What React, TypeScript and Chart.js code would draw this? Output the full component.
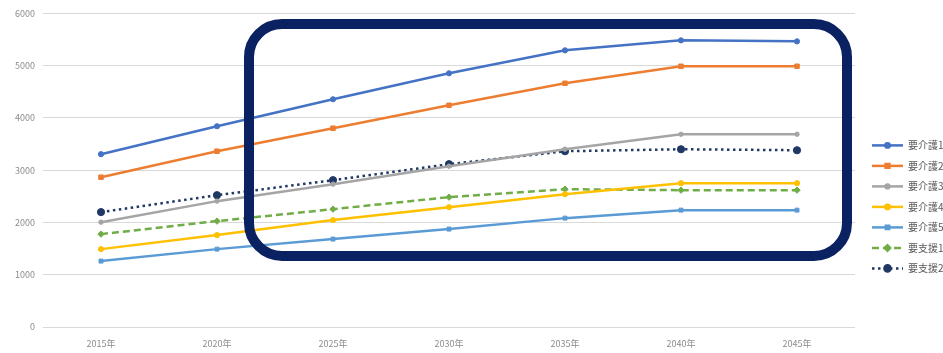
import React, { useEffect, useRef } from "react";
import { Chart, registerables } from "chart.js";
import { drawPoint } from "chart.js/helpers";

Chart.register(...registerables);

const years = ["2015年", "2020年", "2025年", "2030年", "2035年", "2040年", "2045年"];
const kaigo1 = [3306, 3841, 4357, 4854, 5293, 5484, 5465];
const kaigo2 = [2866, 3363, 3803, 4242, 4663, 4988, 4988];
const kaigo3 = [2006, 2408, 2733, 3077, 3401, 3688, 3688];
const kaigo4 = [1490, 1758, 2045, 2293, 2541, 2752, 2752];
const kaigo5 = [1261, 1490, 1682, 1873, 2083, 2236, 2236];
const shien1 = [1777, 2026, 2255, 2484, 2637, 2618, 2618];
const shien2 = [2198, 2522, 2809, 3115, 3363, 3401, 3382];
const seriesLabels = ["要介護1", "要介護2", "要介護3", "要介護4", "要介護5", "要支援1", "要支援2"];

const FONT = '"Noto Sans CJK JP", "Noto Sans", sans-serif';

const sideLegend = {
  id: "sideLegend",
  afterDraw(chart: any) {
    const ctx = chart.ctx;
    const { right, top } = chart.chartArea;
    const x0 = right + 17;
    const len = 31;
    chart.data.datasets.forEach((ds: any, i: number) => {
      const y = top + 132 + i * 20.5;
      ctx.save();
      ctx.strokeStyle = ds.borderColor;
      ctx.lineWidth = ds.borderWidth;
      ctx.setLineDash(ds.borderDash || []);
      ctx.beginPath();
      ctx.moveTo(x0, y);
      ctx.lineTo(x0 + len, y);
      ctx.stroke();
      ctx.setLineDash([]);
      ctx.fillStyle = ds.pointBackgroundColor;
      ctx.strokeStyle = ds.pointBorderColor;
      drawPoint(ctx, { pointStyle: ds.pointStyle, radius: ds.pointRadius * 0.85, borderWidth: 1, rotation: 0 } as any, x0 + len / 2, y);
      ctx.fillStyle = "#595959";
      ctx.font = `10px ${FONT}`;
      ctx.textBaseline = "middle";
      ctx.textAlign = "left";
      ctx.fillText(ds.label, x0 + len + 5, y);
      ctx.restore();
    });
  },
};

function mk(label: string, data: number[], color: string, pointStyle: string, radius: number, dash: number[] = []) {
  return {
    label,
    data,
    borderColor: color,
    backgroundColor: color,
    pointBackgroundColor: color,
    pointBorderColor: color,
    borderWidth: 2.5,
    borderDash: dash,
    pointStyle,
    pointRadius: radius,
    pointBorderWidth: 1,
    tension: 0,
    fill: false,
  };
}

export default function App() {
  const ref = useRef<HTMLCanvasElement>(null);
  useEffect(() => {
    document.body.style.margin = "0";
    const chart = new Chart(ref.current!, {
      type: "line",
      data: {
        labels: years,
        datasets: [
          mk(seriesLabels[0], kaigo1, "#4472C4", "circle", 2.6),
          mk(seriesLabels[1], kaigo2, "#ED7D31", "rect", 3.2),
          mk(seriesLabels[2], kaigo3, "#A5A5A5", "circle", 2.2),
          mk(seriesLabels[3], kaigo4, "#FFC000", "circle", 2.6),
          mk(seriesLabels[4], kaigo5, "#5B9BD5", "rect", 2.8),
          mk(seriesLabels[5], shien1, "#70AD47", "rectRot", 3.2, [7, 4]),
          mk(seriesLabels[6], shien2, "#203864", "circle", 3.6, [2.5, 3.5]),
        ] as any,
      },
      options: {
        animation: false,
        responsive: false,
        layout: { padding: { top: 13, right: 88, left: 0, bottom: 0 } },
        plugins: { legend: { display: false }, tooltip: { enabled: false } },
        scales: {
          x: {
            offset: true,
            grid: { display: false, offset: true },
            border: { display: false },
            ticks: { color: "#8c8c8c", font: { family: FONT, size: 9 }, padding: 3 },
            afterFit(scale: any) {
              scale.height = 26;
            },
          },
          y: {
            min: 0,
            max: 6000,
            ticks: {
              stepSize: 1000,
              color: "#8c8c8c",
              font: { family: FONT, size: 9 },
              padding: 8,
              callback: (v: any) => String(v),
            },
            grid: { color: "#d9d9d9", drawTicks: false, lineWidth: 1 },
            border: { display: false },
            afterFit(scale: any) {
              scale.width = 43;
            },
          },
        },
      },
      plugins: [sideLegend],
    });
    return () => chart.destroy();
  }, []);
  return (
    <div style={{ position: "relative", width: 943, height: 353, overflow: "hidden", background: "#fff" }}>
      <canvas ref={ref} width={943} height={353} style={{ display: "block" }} />
      <div
        style={{
          position: "absolute",
          left: 244,
          top: 19,
          width: 608,
          height: 242,
          border: "10px solid #0b2262",
          borderRadius: 38,
          boxSizing: "border-box",
          pointerEvents: "none",
        }}
      />
    </div>
  );
}
